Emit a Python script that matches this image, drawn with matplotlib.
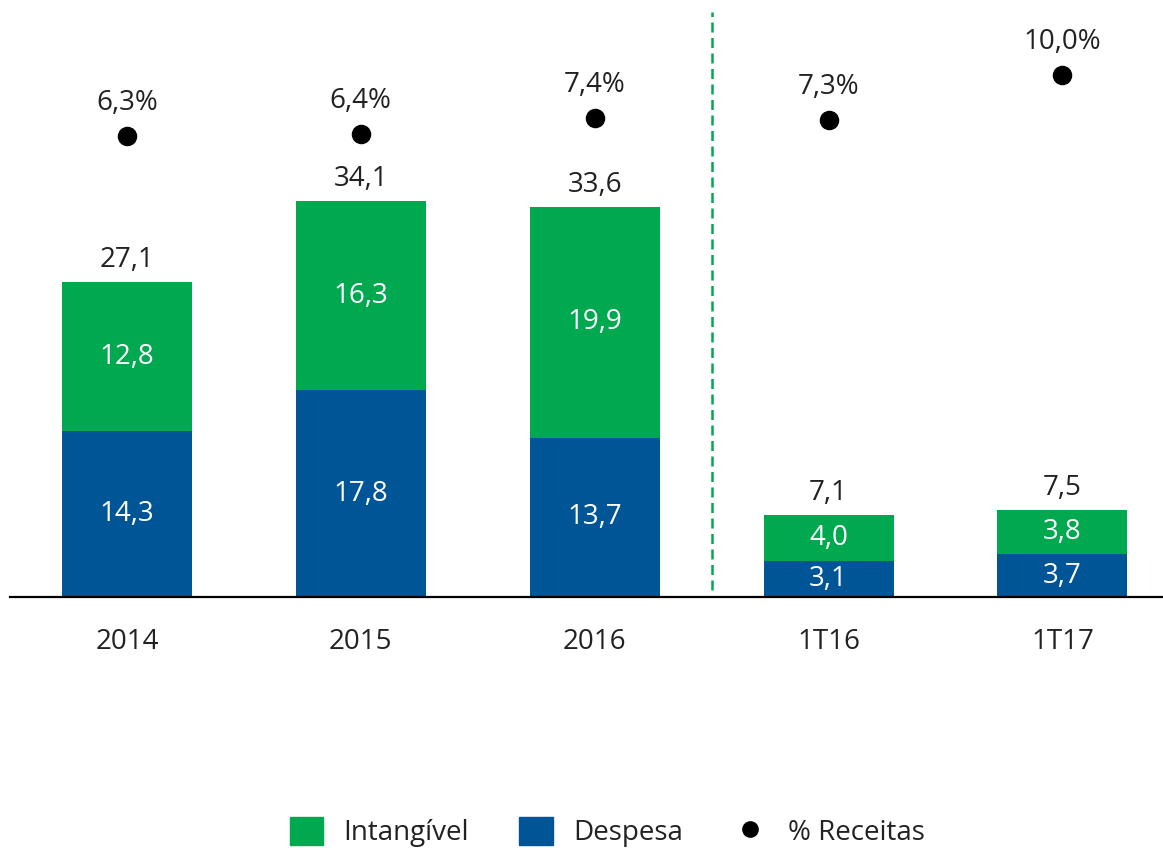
import matplotlib.pyplot as plt
from matplotlib.patches import Patch
from matplotlib.lines import Line2D

categories = ["2014", "2015", "2016", "1T16", "1T17"]
despesa = [14.3, 17.8, 13.7, 3.1, 3.7]
intangivel = [12.8, 16.3, 19.9, 4.0, 3.8]
totais = [27.1, 34.1, 33.6, 7.1, 7.5]
receitas_pct = [6.3, 6.4, 7.4, 7.3, 10.0]

verde = "#00A84F"
azul = "#005596"
fonte = "Open Sans"
fs = 20

def fmt(v, dec=1):
    return f"{v:.{dec}f}".replace(".", ",")

fig = plt.figure(figsize=(11.63, 8.5), dpi=100)
ax = fig.add_axes([10 / 1163, 253 / 850, 1153 / 1163, 597 / 850])
x = list(range(len(categories)))
w = 0.556

ax.bar(x, despesa, w, color=azul)
ax.bar(x, intangivel, w, bottom=despesa, color=verde)

for i in x:
    ax.text(i, despesa[i] / 2, fmt(despesa[i]), ha="center", va="center",
            color="white", fontsize=fs, family=fonte)
    ax.text(i, despesa[i] + intangivel[i] / 2, fmt(intangivel[i]), ha="center",
            va="center", color="white", fontsize=fs, family=fonte)
    ax.text(i, totais[i] + 1.9, fmt(totais[i]), ha="center", va="center",
            color="#222222", fontsize=fs, family=fonte)

ax.set_xlim(-0.5, 4.43)
ax.set_ylim(0, 597 / 11.61)
ax.axvline(2.5, ymin=0.012, ymax=0.98, color=verde, lw=1.8, ls=(0, (4, 2.2)))

for s in ["top", "left", "right"]:
    ax.spines[s].set_visible(False)
ax.spines["bottom"].set_linewidth(1.6)
ax.set_yticks([])
ax.set_xticks(x)
ax.set_xticklabels(categories, fontsize=fs, family=fonte, color="#222222")
ax.tick_params(axis="x", length=0, pad=22)

ax2 = ax.twinx()
ax2.set_ylim((240 - 597) / 16.5, 240 / 16.5)
ax2.scatter(x, receitas_pct, s=170, color="black", zorder=3)
for i in x:
    ax2.text(i, receitas_pct[i] + 2.0, fmt(receitas_pct[i]) + "%", ha="center",
             va="center", color="#222222", fontsize=fs, family=fonte)
ax2.axis("off")

handles = [
    Patch(color=verde, label="Intangível"),
    Patch(color=azul, label="Despesa"),
    Line2D([], [], color="black", marker="o", ls="", ms=11, label="% Receitas"),
]
leg = fig.legend(handles=handles, loc="center", bbox_to_anchor=(607 / 1163, 1 - 832 / 850),
                 ncol=3, frameon=False, prop={"family": fonte, "size": fs},
                 handlelength=1.2, handleheight=1.2, columnspacing=1.8, handletextpad=0.75)
for t in leg.get_texts():
    t.set_color("#222222")

fig.savefig("out.png", dpi=100)
